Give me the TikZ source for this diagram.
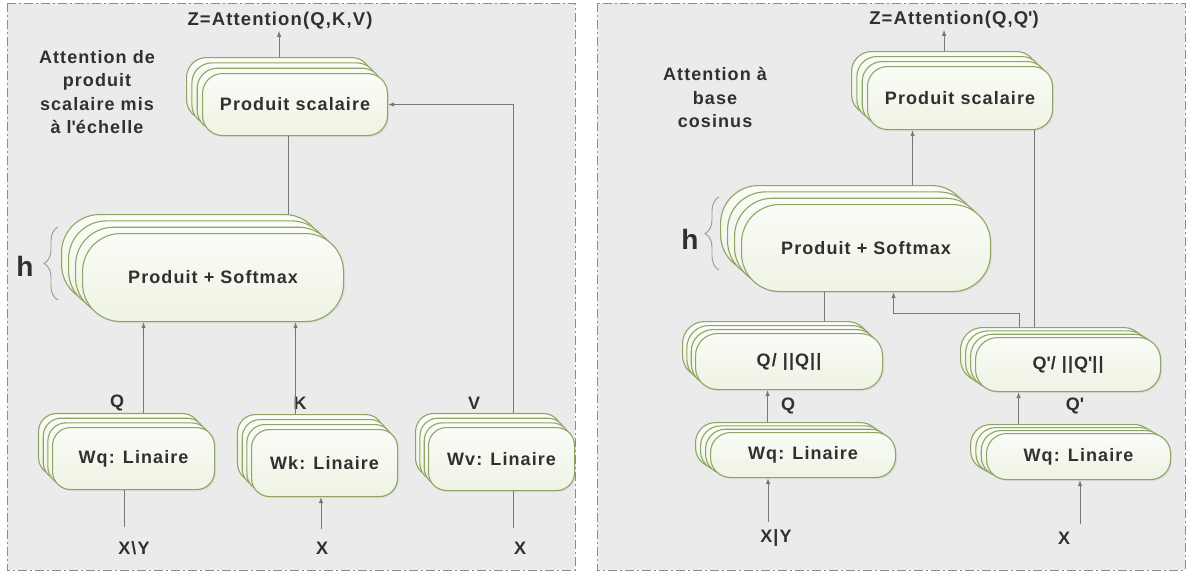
\documentclass[tikz,border=0pt]{standalone}
\usepackage{fontspec}
\newfontfamily\lblfont{Liberation Sans}[LetterSpace=6]
\usetikzlibrary{arrows.meta,decorations.pathreplacing,shadows}
\definecolor{panelbg}{HTML}{EBEBEB}
\definecolor{panelline}{HTML}{8C8C8C}
\definecolor{boxline}{HTML}{8FA566}
\definecolor{boxtop}{HTML}{FAFCF7}
\definecolor{boxbottom}{HTML}{EEF3E3}
\definecolor{txt}{HTML}{303030}
\definecolor{wire}{HTML}{777777}
\definecolor{bracecol}{HTML}{9A9A9A}
\newcommand\boxtxt{\lblfont\bfseries\fontsize{18}{21}\selectfont}
\newcommand\headtxt{\lblfont\bfseries\fontsize{18}{23.5}\selectfont}
% stack of four rounded boxes: name, front x, front y, width, height, dx, dy, radius, text
\newcommand\boxstack[9]{%
  \foreach \k in {3,2,1}{%
    \node[layer, rounded corners=#8, minimum width=#4, minimum height=#5]
      (#1-\k) at ({#2-\k*#6},{#3-\k*#7}) {};
  }
  \node[layer, rounded corners=#8, minimum width=#4, minimum height=#5]
    (#1) at (#2,#3) {#9};
}
\begin{document}
\begin{tikzpicture}[x=1pt,y=-1pt,
  layer/.style={draw=boxline, line width=1.1pt, top color=boxtop, bottom color=boxbottom,
    drop shadow={opacity=0.12, shadow xshift=1.5pt, shadow yshift=-1.5pt},
    inner sep=0pt, anchor=north west, font=\boxtxt, text=txt},
  panel/.style={draw=panelline, fill=panelbg, line width=0.9pt,
    dash pattern=on 9pt off 3pt on 2pt off 3pt},
  lbl/.style={font=\boxtxt, text=txt, inner sep=1pt},
  head/.style={font=\headtxt, text=txt, align=center, inner sep=0pt},
  ln/.style={draw=wire, line width=0.9pt},
  arr/.style={ln, -{Latex[length=6pt,width=4.5pt]}},
  hbrace/.style={draw=bracecol, line width=0.9pt,
    decorate, decoration={brace, amplitude=14pt}},
  hlbl/.style={font=\lblfont\bfseries\fontsize{28}{30}\selectfont, text=txt, inner sep=0pt}]

\useasboundingbox (0,0) rectangle (1189,573);
\fill[white] (0,0) rectangle (1189,573);

% ---------------- left panel: scaled dot-product attention ----------------
\draw[panel] (7,3) rectangle (575,570);

\node[head] (titleA) at (97,92) {Attention de\\produit\\scalaire mis\\à l\textquotesingle échelle};
\node[lbl, font=\lblfont\bfseries\fontsize{18.5}{21}\selectfont] (zA) at (280,21) {Z=Attention(Q,K,V)};

\boxstack{psA}{202}{73}{185}{62}{5.33}{5.33}{20}{Produit scalaire}
\boxstack{smA}{82}{233}{261}{88}{7}{6.33}{38}{Produit + Softmax}
\boxstack{wqA}{52}{427}{162}{62}{4.67}{4.67}{18}{Wq: Linaire}
\boxstack{wkA}{251}{429}{146}{67}{4.67}{5}{18}{Wk: Linaire}
\boxstack{wvA}{428}{427}{146}{63}{4.33}{4.67}{18}{Wv: Linaire}

\draw[hbrace] (58,300) -- (58,227);
\node[hlbl] (hA) at (25,266) {h};

\node[lbl] (qA) at (117,403) {Q};
\node[lbl] (kA) at (300,403) {K};
\node[lbl] (vA) at (474,403) {V};
\node[lbl] (xyA) at (134,548) {X\textbackslash Y};
\node[lbl] (xkA) at (322,548) {X};
\node[lbl] (xvA) at (520,548) {X};

\draw[arr] (psA-3.north) -- (psA-3.north |- zA.south);
\draw[ln] ([xshift=-6.5pt]psA.south) -- ([xshift=-6.5pt]psA.south |- smA-3.north);
\draw[arr] ([xshift=10pt]wqA.north |- wqA-3.north) -- ([xshift=10pt]wqA.north |- smA.south);
\draw[arr] ([xshift=-29pt]wkA.north |- wkA-3.north) -- ([xshift=-29pt]wkA.north |- smA.south);
\draw[arr] ([xshift=12pt]wvA.north |- wvA-3.north) |- (psA.east);

\coordinate (inA1) at (124,527);
\coordinate (inA2) at (321,529);
\coordinate (inA3) at (513,528);
\draw[ln] (inA1) -- (inA1 |- wqA.south);
\draw[arr] (inA2) -- (inA2 |- wkA.south);
\draw[ln] (inA3) -- (inA3 |- wvA.south);

% ---------------- right panel: cosine-based attention ----------------
\draw[panel] (597,3) rectangle (1185,570);

\node[head] (titleB) at (715,97.5) {Attention à\\base\\cosinus};
\node[lbl, font=\lblfont\bfseries\fontsize{18.5}{21}\selectfont] (zB) at (954,20) {Z=Attention(Q,Q\textquotesingle)};

\boxstack{psB}{867}{66}{185}{63}{5.33}{5}{20}{Produit scalaire}
\boxstack{smB}{741}{204}{249}{87}{7}{6.33}{38}{Produit + Softmax}
\boxstack{qnB1}{695}{333}{187}{56}{4.33}{4}{22}{Q/ ||Q||}
\boxstack{qnB2}{975}{337}{185}{54}{5}{3.33}{22}{Q\textquotesingle/ ||Q\textquotesingle||}
\boxstack{wqB1}{710}{432}{185}{45}{5}{3.33}{20}{Wq: Linaire}
\boxstack{wqB2}{986}{433}{184}{46}{5.33}{3}{20}{Wq: Linaire}

\draw[hbrace] (719,270) -- (719,197);
\node[hlbl] (hB) at (690,239) {h};

\node[lbl] (qB) at (788,406) {Q};
\node[lbl] (qpB) at (1075,406) {Q\textquotesingle};
\node[lbl] (xyB) at (776,538) {X|Y};
\node[lbl] (xB) at (1064,538) {X};

\draw[arr] (psB-3.north) -- (psB-3.north |- zB.south);
\draw[arr] ([xshift=67.5pt]smB-3.north) -- ([xshift=67.5pt]smB-3.north |- psB.south);
\draw[ln] ([xshift=74.5pt]psB.south) -- ([xshift=74.5pt]psB.south |- qnB2-3.north);
\draw[ln] ([xshift=48.5pt]qnB1-3.north) -- ([xshift=48.5pt]qnB1-3.north |- smB.south);
\draw[arr] ([xshift=-33.5pt]qnB2-3.north) -- ++(0,-14) -| ([xshift=27.5pt]smB.south);
\draw[arr] ([xshift=-20.5pt]wqB1-3.north) -- ([xshift=-20.5pt]wqB1-3.north |- qnB1.south);
\draw[arr] ([xshift=-44pt]wqB2-3.north) -- ([xshift=-44pt]wqB2-3.north |- qnB2.south);

\coordinate (inB1) at (768,522);
\coordinate (inB2) at (1080,524);
\draw[arr] (inB1) -- (inB1 |- wqB1.south);
\draw[arr] (inB2) -- (inB2 |- wqB2.south);
\end{tikzpicture}
\end{document}
